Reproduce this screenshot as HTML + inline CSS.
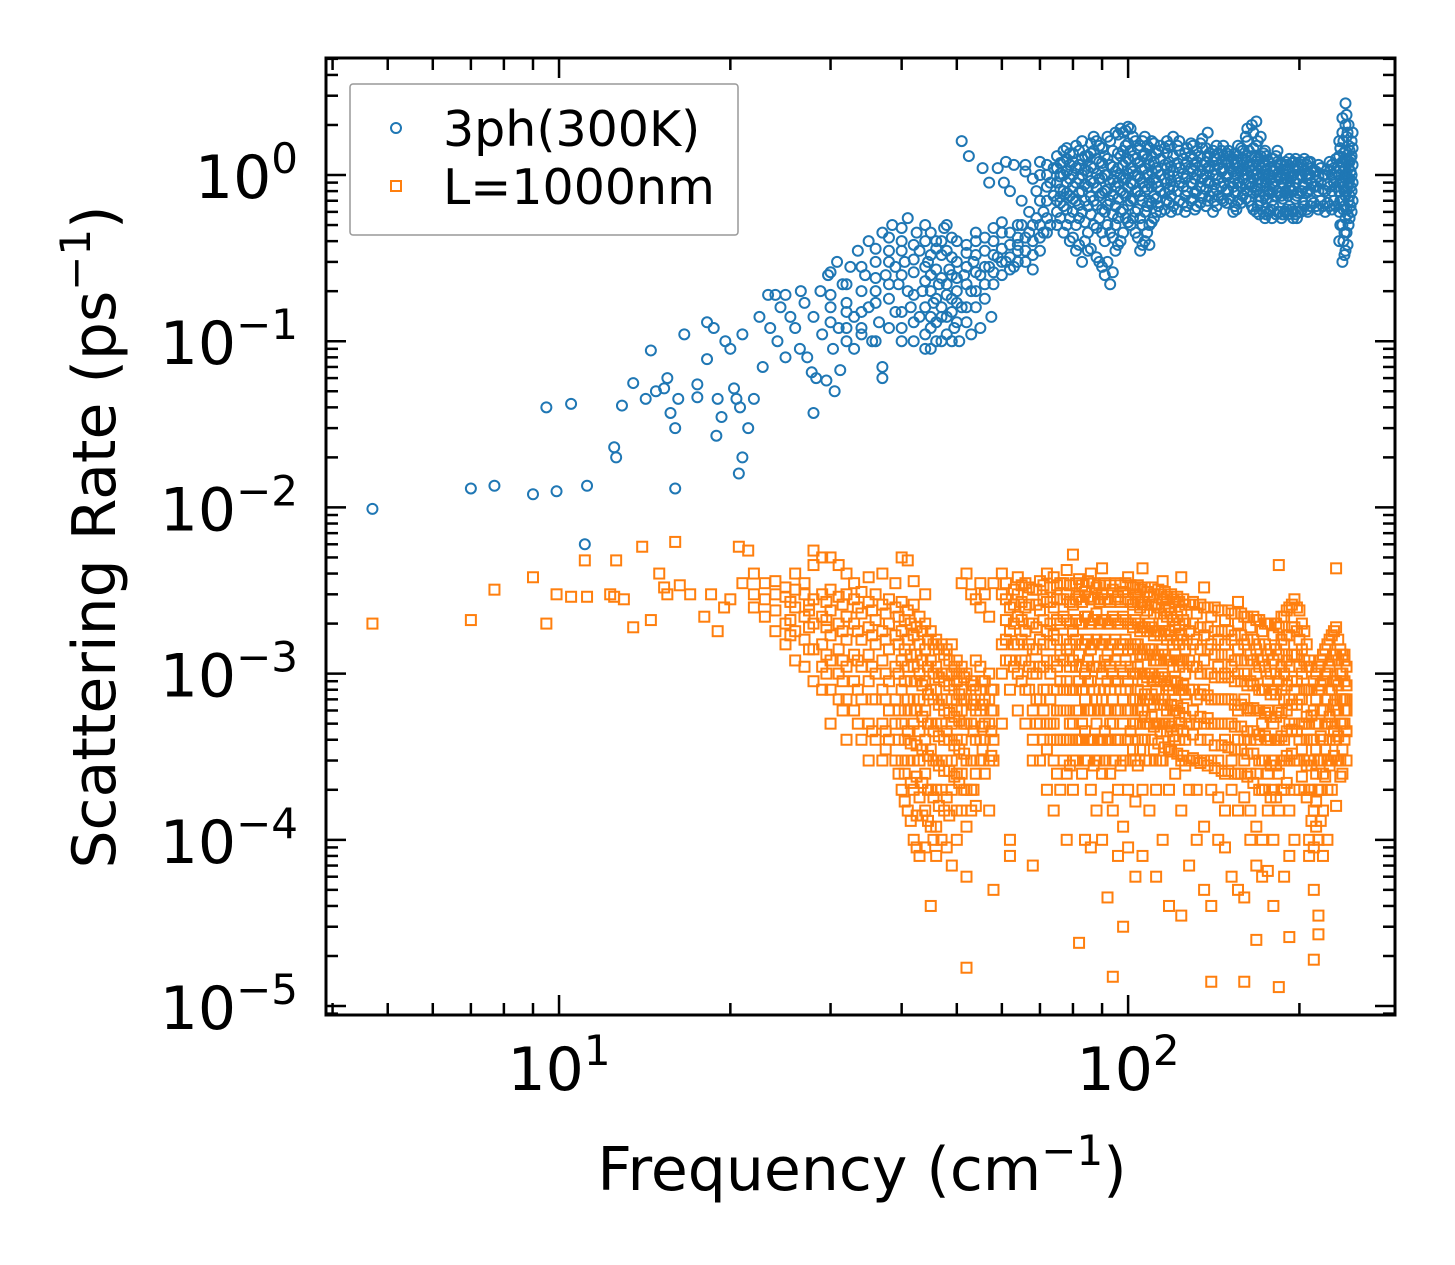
<!DOCTYPE html>
<html><head><meta charset="utf-8"><style>
html,body{margin:0;padding:0;background:#fff;}
svg{display:block;font-family:"DejaVu Sans","Liberation Sans",sans-serif;}
</style></head><body>
<svg id="chart" width="1455" height="1265" viewBox="0 0 1455 1265" xmlns="http://www.w3.org/2000/svg">
<rect width="1455" height="1265" fill="#fff"/>
<g id="marks"></g>
<g id="axes"></g>
<rect x="326" y="58" width="1069" height="957" fill="none" stroke="#000" stroke-width="3"/>
<text x="862" y="1190" font-size="60" text-anchor="middle">Frequency (cm<tspan dy="-25" font-size="42">−1</tspan><tspan dy="25">)</tspan></text>
<text transform="translate(115,537) rotate(-90)" font-size="60" text-anchor="middle">Scattering Rate (ps<tspan dy="-25" font-size="42">−1</tspan><tspan dy="25">)</tspan></text>
<g>
<rect x="350" y="84" width="388" height="151" fill="#fff" stroke="#999" stroke-width="1.5" rx="3"/>
<circle cx="396" cy="128" r="5" fill="none" stroke="#1f77b4" stroke-width="2"/>
<text x="443" y="146" font-size="49">3ph(300K)</text>
<rect x="391" y="181" width="10" height="10" fill="none" stroke="#ff7f0e" stroke-width="2"/>
<text x="443" y="204" font-size="49">L=1000nm</text>
</g>
</svg>
<script>
const blueSparse = [[4.7,0.0098],[7,0.013],[7.7,0.0135],[9,0.012],[9.5,0.04],[9.9,0.0125],[10.5,0.042],[11.2,0.0135],[11.1,0.006],[12.5,0.023],[12.6,0.02],[12.9,0.041],[13.5,0.056],[14.2,0.045],[14.5,0.088],[14.8,0.05],[15.3,0.052],[15.5,0.06],[15.7,0.037],[16,0.013],[16,0.03],[16.2,0.045],[16.6,0.11],[17.5,0.055],[17.5,0.046],[18.2,0.078],[18.2,0.13],[18.7,0.12],[18.9,0.027],[19,0.045],[19.3,0.035],[19.6,0.1],[20,0.09],[20.3,0.052],[20.5,0.045],[20.7,0.016],[20.8,0.04],[21,0.02],[21,0.11],[21.5,0.03],[22,0.045],[22.5,0.14],[22.8,0.07],[23.3,0.19],[23.5,0.12],[24,0.19],[24.2,0.1],[24.5,0.16],[25,0.19],[25,0.08],[25.5,0.14],[26,0.12],[26.5,0.09],[26.6,0.2],[27,0.17],[27.3,0.08],[27.8,0.065],[28,0.037],[28,0.14],[28.3,0.06],[28.8,0.2],[29,0.11],[29.5,0.058],[29.7,0.25],[30,0.16],[30.3,0.09],[30.5,0.05],[30.8,0.3],[31,0.12],[31.2,0.067],[31.5,0.22],[32,0.17],[32,0.1],[32.5,0.28],[33,0.14],[33,0.09],[33.5,0.35],[34,0.2],[34,0.12],[34.5,0.25],[35,0.16],[35,0.4],[35.5,0.1],[36,0.3],[36,0.2],[36.5,0.13],[37,0.45],[37,0.06],[37,0.07],[37.5,0.25],[38,0.18],[38,0.35],[38.5,0.5],[39,0.15],[39,0.28],[39.5,0.22],[40,0.4],[40,0.12],[40.5,0.3],[41,0.55],[41,0.2],[41.5,0.16],[42,0.1],[42,0.26],[42.5,0.45],[43,0.35],[43,0.14],[43.5,0.2],[44,0.09],[44,0.5],[44.5,0.3],[45,0.12],[45,0.25],[45.5,0.17],[46,0.4],[46,0.1],[46.5,0.22],[47,0.14],[47,0.33],[47.5,0.48],[48,0.11],[48,0.19],[48.5,0.27],[49,0.42],[49,0.15],[49.5,0.12],[50,0.3],[50,0.2],[50.5,0.1],[51,0.16],[51,1.6],[51.5,0.25],[52,0.13],[52,0.38],[52.5,1.3],[53,0.2],[53,0.11],[53.5,0.3],[54,0.16],[54,0.45],[55,0.12],[55,0.25],[55.5,1.1],[56,0.35],[56,0.18],[57,0.28],[57,0.9],[57.5,0.14],[58,0.22],[58,0.4],[59,0.32],[59,1.1],[60,0.25],[60,0.45],[60.5,0.9],[61,0.3],[61,1.2],[62,0.38],[62,0.8],[63,0.28],[63,1.15],[64,0.42],[64,0.35],[65,0.5],[65,0.7],[66,0.3],[66,1.15],[67,0.45],[67,0.6],[68,0.4],[68,0.27],[69,0.55],[69,0.8],[70,0.35],[70,1.2],[71,0.6],[71,0.45],[72,0.7],[72,1.0],[73,0.5],[73,0.9],[74,0.75],[74,1.1]];
const blueColumns = [[75,.5,.7,.9,1.1,1.3,.6],[77,.45,.8,1.0,1.2,.65,1.4],[79,.4,.55,.75,.95,1.15,1.35],[81,.35,.5,.7,.9,1.1,1.5],[83,.3,.6,.8,1.0,1.25,1.6],[85,.45,.65,.85,1.05,1.3,.35],[87,.5,.7,.9,1.1,1.4,1.7],[89,.3,.55,.75,.95,1.2,1.5],[91,.25,.4,.6,.8,1.0,1.3],[93,.22,.45,.7,.9,1.15,1.6],[95,.35,.5,.65,.85,1.05,1.8],[97,.4,.6,.8,1.0,1.3,1.9],[99,.55,.75,.95,1.2,1.5,1.85],[101,.5,.7,.9,1.1,1.4,1.9],[103,.6,.8,1.0,1.25,1.6,.45],[105,.35,.55,.75,.95,1.2,1.5],[107,.4,.6,.85,1.1,1.35,1.7],[109,.5,.7,.9,1.15,1.45,.38],[111,.55,.75,.95,1.2,1.55],[114,.6,.8,1.0,1.25,1.5],[117,.7,.9,1.1,1.35,1.6],[120,.65,.85,1.05,1.3,1.7],[123,.7,.9,1.1,1.4,1.6],[126,.75,.95,1.15,1.35,.6],[129,.7,.9,1.1,1.3,1.55],[132,.8,1.0,1.2,1.4,.65],[135,.75,.95,1.15,1.45,1.65],[138,.7,.9,1.1,1.3,1.8],[141,.8,1.0,1.2,1.4,.6],[144,.75,.95,1.15,1.35],[147,.7,.9,1.1,1.3,1.5],[150,.8,1.0,1.2,1.4],[153,.6,.85,1.05,1.25],[156,.7,.9,1.1,1.3,1.5],[159,.75,.95,1.15,1.4],[162,.8,1.0,1.2,1.6,1.9],[165,.65,.85,1.05,1.3,2.0],[168,.6,.8,1.0,1.2,1.5,2.1],[171,.7,.9,1.1,1.3,1.7],[174,.55,.75,.95,1.15,1.4],[177,.6,.8,1.0,1.2],[180,.65,.85,1.05,1.25],[183,.6,.8,1.0,1.2,1.4],[186,.55,.75,.95,1.15],[189,.6,.8,1.0,1.2],[192,.65,.85,1.05,1.25],[195,.6,.8,1.0,1.2,.55],[198,.55,.75,.95,1.15],[201,.6,.8,1.0,1.2],[204,.65,.85,1.05,1.25],[207,.6,.8,1.0,1.2],[210,.7,.9,1.1],[214,.65,.85,1.05],[218,.7,.9,1.1],[222,.6,.8,1.0],[226,.65,.85,1.05,1.2],[230,.7,.9,1.1],[235,.4,.6,.8,1.0,1.3,1.6],[238,.3,.5,.7,.9,1.2,1.8,2.2],[241,.35,.55,.75,.95,1.1,1.4,2.0,2.7],[244,.5,.7,.9,1.1,1.5,2.0],[247,.6,.8,1.0,1.3,1.6]];
const blueColumns2 = [[30,.13,.19,.26],[32,.12,.22,.15],[34,.15,.28,.11],[36,.1,.17,.24,.36],[38,.12,.22,.3,.42],[40,.1,.15,.25,.35,.48],[42,.13,.19,.31,.38],[44,.11,.16,.23,.4,.28],[45,.09,.14,.2,.33,.45],[46,.13,.18,.27,.36],[47,.1,.16,.24,.4],[48,.14,.22,.35,.5],[49,.1,.18,.25,.32],[50,.13,.17,.4,.24],[52,.16,.22,.28,.34],[54,.2,.26,.33,.4],[56,.22,.28,.42],[58,.26,.33,.48],[60,.3,.36,.52],[62,.27,.32,.45],[64,.3,.38,.5],[66,.35,.42,1.05],[68,.33,.5,.95],[70,.42,.5,.7,1.0],[72,.45,.55,.85,1.15],[76,.55,.68,.82,.98,1.18,1.02,.74],[78,.5,.62,.78,.9,1.05,1.25,1.45],[80,.42,.6,.72,.85,1.0,1.2,1.35],[82,.38,.55,.66,.78,.95,1.15,1.4],[84,.4,.52,.7,.88,1.08,1.3],[86,.36,.58,.74,.92,1.12,1.35,1.55],[88,.32,.48,.66,.84,1.02,1.25,1.6],[90,.28,.45,.62,.78,.96,1.18,1.45],[92,.3,.5,.66,.82,1.0,1.25,1.7],[94,.26,.42,.58,.76,.94,1.12,1.4],[96,.38,.55,.72,.9,1.1,1.35,1.75],[98,.45,.62,.78,.96,1.15,1.4,1.8],[100,.52,.66,.84,1.02,1.25,1.55,1.95],[102,.55,.72,.88,1.05,1.3,1.7],[104,.42,.62,.8,.98,1.18,1.45],[106,.38,.5,.7,.9,1.08,1.3,1.6],[108,.45,.65,.82,1.0,1.25,1.5],[110,.52,.68,.85,1.05,1.3,1.6],[112,.6,.72,.9,1.1,1.35],[113,.65,.85,1.05,1.4],[116,.62,.78,.95,1.15,1.45],[118,.68,.82,1.0,1.2,1.5],[119,.6,.75,.92,1.12],[122,.62,.8,.98,1.18,1.5],[125,.68,.85,1.02,1.25],[127,.65,.8,.98,1.2,1.45],[130,.72,.88,1.05,1.25,1.5],[131,.62,.78,.95,1.15],[134,.68,.85,1.05,1.3,1.55],[137,.65,.82,1.0,1.2,1.45],[139,.75,.92,1.12,1.35],[142,.7,.88,1.08,1.3],[143,.65,.82,1.0,1.25,1.5],[146,.72,.85,1.05,1.2,1.4],[149,.68,.82,.98,1.18,1.35],[151,.72,.9,1.1,1.3],[154,.65,.78,.95,1.15,1.35],[155,.62,.8,1.0,1.2],[158,.68,.85,1.05,1.25,1.45],[161,.72,.88,1.08,1.3,1.7],[163,.7,.9,1.12,1.4],[166,.62,.78,.95,1.15,1.45,1.8],[169,.65,.82,1.02,1.25,1.6],[170,.58,.75,.95,1.15],[173,.6,.8,1.0,1.2,1.35],[175,.58,.72,.9,1.08,1.3],[178,.62,.78,.95,1.12],[179,.55,.7,.88,1.05],[182,.58,.75,.92,1.1,1.3],[185,.6,.78,.98,1.18],[187,.58,.72,.9,1.08],[190,.62,.78,.95,1.15],[191,.58,.75,.92,1.1],[194,.62,.8,.98,1.18],[197,.58,.72,.9,1.08,1.25],[199,.6,.78,.95,1.12],[202,.62,.8,.98,1.15],[203,.68,.88,1.1],[206,.62,.78,.95,1.15],[209,.65,.82,1.0,1.2],[212,.68,.85,1.05],[216,.62,.8,.98,1.15],[220,.65,.82,1.0],[224,.68,.88,1.08],[228,.62,.8,1.0,1.15],[232,.65,.85,1.05,1.25],[236,.5,.7,.9,1.1,1.45],[239,.4,.62,.85,1.05,1.35,1.6],[240,.33,.45,.65,.8,1.0,1.25],[242,.45,.62,.8,1.0,1.25,1.7,2.3],[243,.38,.58,.85,1.2,1.8],[245,.55,.75,.95,1.2,1.4],[246,.65,.85,1.05,1.25],[248,.7,.9,1.15,1.45,1.8]];
const orangeSparse = [[4.7,0.002],[7,0.0021],[7.7,0.0032],[9,0.0038],[9.5,0.002],[9.9,0.003],[10.5,0.0029],[11.1,0.0048],[11.2,0.0029],[12.3,0.003],[12.5,0.0029],[12.6,0.0048],[13,0.0028],[13.5,0.0019],[14,0.0058],[14.5,0.0021],[15,0.004],[15.3,0.0033],[15.5,0.003],[16,0.0062],[16.3,0.0034],[17,0.003],[18,0.0022],[18.5,0.003],[19,0.0018],[19.5,0.0025],[20,0.0028],[20.7,0.0058],[21,0.0035],[21.5,0.0055]];
const orangeColumns = [[22,.003,.0025,.004],[23,.0028,.0035,.0022],[24,.003,.0024,.0018,.0036],[25,.0029,.002,.0015,.0033],[26,.0032,.0025,.0018,.0012,.004],[27,.003,.0022,.0016,.0011,.0035],[28,.0028,.002,.0014,.0009,.0045,.0055],[29,.003,.0022,.0015,.0011,.0008,.005],[30,.0032,.0024,.0017,.0012,.0008,.0005,.005],[31,.0029,.002,.0014,.001,.0007,.0045],[32,.003,.0022,.0016,.0011,.0007,.0004,.004],[33,.0028,.002,.0013,.0009,.0006,.0035],[34,.0031,.0023,.0016,.0011,.0007,.0004],[35,.0027,.0019,.0013,.0009,.0005,.0003,.0038],[36,.003,.0021,.0015,.001,.0007,.0004],[37,.0026,.0018,.0012,.0008,.0005,.0003,.004],[38,.0028,.002,.0014,.0009,.0006,.0004],[39,.0025,.0017,.0011,.0007,.0005,.0003,.0035],[40,.0027,.0018,.0012,.0008,.0005,.0003,.0002,.005],[41,.0024,.0016,.0011,.0007,.00045,.0003,.00015,.0048],[42,.0026,.0017,.0011,.0007,.0005,.0003,.0002,.0001,.0036],[43,.0022,.0015,.001,.0007,.00045,.0003,.00018,.00008],[44,.002,.0014,.0009,.0006,.0004,.00025,.00015,.00009,.003],[45,.0018,.0012,.0008,.0005,.00035,.0002,.00012,.00004],[46,.0016,.0011,.0008,.0005,.0003,.0002,.00012,.00008],[47,.0015,.001,.0007,.0005,.0003,.0002,.0001],[48,.0014,.001,.0007,.00045,.0003,.00018,.00009],[49,.0015,.001,.0007,.0005,.0003,.0002,.00007],[50,.0012,.0009,.0006,.0004,.00025,.00015,.0001],[51,.0011,.0008,.0006,.0004,.00025,.00015,.0035],[52,.001,.0007,.0005,.0003,.0002,.00012,.00006,.000017,.004],[53,.0009,.0007,.0005,.0003,.0002,.00015,.003],[54,.0012,.0008,.0006,.0004,.00025,.00016,.0028],[55,.0011,.0008,.0006,.0004,.0003,.0025,.0035],[56,.0009,.0007,.0005,.0004,.00025,.003],[57,.001,.0007,.0005,.0003,.00015,.0022],[58,.0008,.0006,.0004,.0003,.00005,.0035],[60,.0015,.001,.0005,.003,.004],[62,.0018,.0012,.0008,.0001,.00008,.0025],[64,.0022,.0015,.001,.0006,.003,.0038],[66,.0025,.0018,.0012,.0008,.0005,.0035],[68,.002,.0014,.001,.0006,.0004,.0003,.00007,.0032],[70,.0024,.0016,.0011,.0007,.0005,.0003,.0036],[72,.0027,.0018,.0012,.0008,.0005,.00035,.0002,.004],[74,.0025,.0017,.0012,.0008,.0005,.0003,.00015,.0038],[76,.0028,.002,.0013,.0009,.0006,.0004,.0002,.0035],[78,.003,.0021,.0014,.0009,.0006,.0004,.00025,.0001,.0042],[80,.0026,.0018,.0012,.0008,.0005,.0003,.0002,.0052],[82,.0029,.002,.0013,.0009,.0006,.0004,.000024,.0037],[84,.0031,.0022,.0015,.001,.0007,.00045,.0003,.0001],[86,.0028,.002,.0014,.0009,.0006,.0004,.0002,.00009,.004],[88,.0033,.0023,.0016,.0011,.0007,.0005,.0003,.00015],[90,.003,.0021,.0015,.001,.0007,.0004,.00025,.0001,.0043],[92,.0028,.002,.0013,.0009,.0006,.0004,.00018,.000045],[94,.0032,.0022,.0015,.001,.0007,.0005,.0003,.00015,.000015],[96,.0029,.002,.0014,.0009,.0006,.0004,.0002,.00008],[98,.0031,.0022,.0015,.001,.0007,.0005,.0003,.00012,.00003],[100,.0028,.002,.0014,.0009,.0006,.0004,.0002,.00009,.0038],[103,.003,.0021,.0015,.001,.0007,.0005,.0003,.00017,.00006],[106,.0027,.0019,.0013,.0009,.0006,.0004,.0002,.00008,.0043],[109,.0029,.002,.0014,.001,.0007,.0005,.0003,.00015],[112,.0026,.0018,.0012,.0008,.0005,.0003,.0002,.00006],[115,.0028,.002,.0014,.001,.0007,.0005,.0003,.0001,.0036],[118,.0025,.0018,.0012,.0008,.0005,.00035,.0002,.00004],[121,.0027,.0019,.0013,.0009,.0006,.0004,.00025],[124,.0024,.0017,.0012,.0008,.0005,.0003,.00015,.000035,.0038],[128,.0026,.0018,.0012,.0008,.0005,.0003,.0002,.00007],[132,.0023,.0016,.0011,.0007,.0005,.0003,.0002,.0001],[136,.0025,.0017,.0012,.0008,.0005,.0003,.00012,.00005,.0033],[140,.0022,.0015,.001,.0007,.0005,.0003,.0002,.00004,.000014],[144,.0024,.0016,.0011,.0007,.0005,.0003,.00018,.0001],[148,.0021,.0015,.001,.0007,.0004,.00025,.00015,.00009],[152,.0023,.0016,.0011,.0007,.0005,.0003,.0002,.00006],[156,.002,.0014,.001,.0006,.0004,.00025,.00015,.00005,.0027],[160,.0022,.0015,.001,.0007,.0004,.0003,.00018,.000045,.000014],[164,.0019,.0013,.0009,.0006,.0004,.00025,.00015,.0001],[168,.0021,.0014,.001,.0006,.0004,.00025,.00012,.00007,.000025],[172,.0018,.0012,.0008,.0005,.0003,.0002,.0001,.00006],[176,.002,.0013,.0009,.0006,.0004,.00025,.00015,.000065],[180,.0017,.0012,.0008,.0005,.0003,.0002,.0001,.00004],[184,.0019,.0013,.0009,.0006,.0004,.00025,.00015,.000013,.0045],[188,.0022,.0015,.001,.0007,.0004,.0003,.0002,.00006],[192,.0025,.0017,.0011,.0007,.0005,.0003,.00015,.00008,.000026],[196,.0028,.0019,.0013,.0008,.0005,.0003,.0002,.0001],[200,.0024,.0016,.0011,.0007,.0004,.0003,.0002],[204,.0018,.0012,.0008,.0005,.0003,.0002],[208,.0012,.0008,.0005,.0003,.0002,.0001,.00008],[212,.0009,.0006,.0004,.0003,.00015,.00009,.00005,.000019],[216,.0011,.0008,.0005,.0003,.0002,.0001,.000035,.000027],[220,.0013,.0009,.0006,.0004,.00025,.00015,.00008],[224,.0015,.001,.0007,.0005,.0003,.0002,.0001],[228,.0017,.0012,.0008,.0005,.0003,.0002],[232,.0019,.0013,.0009,.0006,.0004,.0003,.00016,.0043],[236,.0014,.001,.0007,.0005,.0003,.00024],[240,.0012,.0009,.0006,.0005,.0004,.0007,.0013]];
const orangeColumns2 = [[25.5,.0027,.0021,.0017],[27.5,.0026,.0019,.0014,.0024],[29.5,.0027,.0019,.0013,.001,.0021],[31.5,.0026,.0018,.0012,.0009,.0006],[33.5,.0025,.0018,.0012,.0008,.0005],[35.5,.0024,.0017,.0011,.0007,.00045],[37.5,.0023,.0016,.001,.0007,.00045,.00035],[39.5,.0022,.0015,.001,.0006,.0004,.00025],[40.5,.0021,.0014,.0009,.0006,.0004,.00025,.00017],[41.5,.002,.0013,.0009,.0006,.00038,.00022,.00013],[42.5,.0019,.0013,.0009,.0006,.00037,.00024,.00014,.00009],[43.5,.0018,.0012,.00085,.00055,.00035,.00022,.00014],[44.5,.0016,.0011,.00075,.0005,.00032,.0002,.00013],[45.5,.0015,.001,.0007,.00045,.0003,.00018,.0001],[46.5,.0014,.00095,.00065,.00042,.00028,.00016],[47.5,.0013,.0009,.0006,.0004,.00026,.00015],[48.5,.0012,.00085,.00058,.0004,.00026,.00014],[49.5,.0011,.0008,.00055,.00037,.00024],[50.5,.001,.00075,.00052,.00035,.00022],[51.5,.00095,.0007,.0005,.00033,.0002],[53.5,.00085,.00065,.00045,.0003,.0002],[55.5,.0009,.00065,.00048,.00035],[57.5,.0008,.0006,.00045,.00032],[61,.0035,.0028,.0021,.0016,.0012],[63,.0032,.0026,.002,.0015,.0011],[65,.0034,.0027,.0021,.0016,.0012,.0009],[67,.0033,.0026,.002,.0015,.0011,.0008],[69,.0032,.0026,.0019,.0014,.001,.0007,.0005],[71,.0034,.0028,.0021,.0015,.0011,.0008,.0006,.0004],[73,.0033,.0027,.002,.0015,.001,.0007,.0005,.0004],[75,.0034,.0028,.0021,.0016,.0011,.0008,.0006,.0004,.00025],[77,.0035,.0028,.0022,.0016,.0012,.0008,.0006,.0004,.0003],[79,.0034,.0027,.002,.0015,.0011,.0008,.0005,.0004,.00028],[81,.0035,.0028,.0021,.0016,.0011,.0008,.0006,.0004,.0003],[83,.0034,.0027,.002,.0015,.0011,.0008,.0005,.0004,.00025],[85,.0036,.0029,.0022,.0016,.0012,.0009,.0006,.0004,.0003],[87,.0035,.0028,.0021,.0015,.0011,.0008,.0006,.0004,.00028],[89,.0034,.0027,.002,.0015,.0011,.0008,.0006,.0004,.0003],[91,.0035,.0028,.0021,.0016,.0012,.0008,.0006,.00045,.0003],[93,.0034,.0027,.002,.0015,.0011,.0008,.0005,.0004,.00025],[95,.0035,.0028,.0021,.0016,.0012,.0009,.0006,.0004,.0003],[97,.0034,.0027,.002,.0015,.0011,.0008,.0006,.0004,.00028],[99,.0035,.0028,.0021,.0016,.0012,.0008,.0006,.0004,.0003],[101,.0034,.0027,.002,.0015,.0011,.0008,.0006,.00045,.0003],[102,.0033,.0026,.0019,.0014,.001,.0007,.0005,.00035],[104,.0034,.0027,.002,.0015,.0011,.0008,.0006,.0004,.00028],[105,.0032,.0025,.0018,.0013,.001,.0007,.0005,.00035],[107,.0033,.0026,.0019,.0014,.001,.00075,.00055,.0004,.0003],[108,.0031,.0024,.0018,.0013,.00095,.0007,.0005],[110,.0033,.0026,.0019,.0014,.001,.00075,.00055,.0004],[111,.003,.0023,.0017,.0012,.0009,.00065,.00048,.00035],[113,.0032,.0025,.0018,.0013,.00095,.0007,.0005,.00038],[114,.003,.0023,.0017,.0012,.0009,.00065,.00045,.0003],[116,.0031,.0024,.0018,.0013,.00095,.0007,.0005,.00036],[117,.0029,.0022,.0016,.0012,.00085,.0006,.00045],[119,.003,.0023,.0017,.0012,.0009,.00065,.00048,.00034],[120,.0028,.0021,.0015,.0011,.0008,.0006,.00042],[122,.0029,.0022,.0016,.0012,.00088,.00064,.00046,.00033],[123,.0027,.002,.0015,.0011,.0008,.00058,.0004],[125,.0028,.0021,.0016,.0012,.00085,.00062,.00045,.00032],[126,.0026,.002,.0014,.001,.00075,.00055,.0004,.00028],[130,.0027,.002,.0015,.0011,.0008,.0006,.00043,.00031],[134,.0026,.0019,.0014,.001,.00075,.00055,.0004,.00029],[138,.0025,.0019,.0014,.001,.00074,.00054,.0004,.00028],[142,.0025,.0018,.0013,.00095,.0007,.0005,.00037,.00027],[146,.0024,.0018,.0013,.00095,.0007,.0005,.00037,.00026],[150,.0024,.0018,.0013,.00095,.0007,.0005,.00036,.00026],[154,.0023,.0017,.0012,.0009,.00065,.00048,.00035,.00025],[158,.0023,.0017,.0012,.0009,.00065,.00048,.00035,.00025],[162,.0022,.0016,.0012,.00085,.00062,.00045,.00033,.00024],[166,.0022,.0016,.0012,.00085,.00062,.00045,.00033,.00022],[170,.0021,.0015,.0011,.0008,.0006,.00043,.0003,.0002],[174,.002,.0015,.0011,.0008,.00058,.00042,.0003,.0002],[178,.002,.0014,.001,.00075,.00055,.0004,.00028,.00018],[182,.002,.0014,.001,.00075,.00055,.0004,.00028,.00018],[186,.0022,.0016,.0011,.0008,.00058,.00042,.0003,.0002],[190,.0024,.0017,.0012,.00085,.0006,.00045,.00032,.00022],[194,.0026,.0019,.0013,.0009,.00065,.00046,.00033],[198,.0025,.0018,.0013,.0009,.00065,.00045,.0003],[202,.002,.0014,.001,.0007,.0005,.00035,.00024],[206,.0015,.0011,.0008,.00055,.0004,.00028,.00018],[210,.0011,.0008,.00056,.0004,.00028,.0002,.00013],[214,.001,.0007,.0005,.00035,.00025,.00017,.00012],[218,.0012,.00085,.0006,.00042,.0003,.0002,.00013],[222,.0014,.001,.0007,.0005,.00035,.00024],[226,.0016,.0011,.0008,.00055,.0004,.00028],[230,.0018,.0013,.0009,.00065,.00045,.00032],[234,.0016,.0012,.00085,.0006,.00042,.0003],[238,.0013,.001,.0007,.0005,.00035,.00025],[242,.0011,.00085,.0006,.00045,.0003,.0007]];
const xTickExps = [1, 2];
const yTickExps = [0, -1, -2, -3, -4, -5];

const NS = "http://www.w3.org/2000/svg";
const X0 = 326, X1 = 1395, Y0 = 58, Y1 = 1015;
const xLogMin = 0.5905, xLogMax = 2.469, yLogMin = -5.054, yLogMax = 0.704;
function xs(f){ return X0 + (Math.log10(f) - xLogMin) / (xLogMax - xLogMin) * (X1 - X0); }
function ys(r){ return Y1 - (Math.log10(r) - yLogMin) / (yLogMax - yLogMin) * (Y1 - Y0); }
const marks = document.getElementById('marks');
const axes = document.getElementById('axes');

function expand(sparse, colsList){
  const pts = sparse.slice();
  colsList.forEach(cols => cols.forEach(c => { for (let i = 1; i < c.length; i++) pts.push([c[0], c[i]]); }));
  return pts;
}
const bluePts = expand(blueSparse, [blueColumns, blueColumns2]);
const orangePts = expand(orangeSparse, [orangeColumns, orangeColumns2]);

const gB = document.createElementNS(NS, 'g');


marks.appendChild(gB);
bluePts.forEach(p => {
  const c = document.createElementNS(NS, 'circle');
  
  
  c.setAttribute('cx', xs(p[0])); c.setAttribute('cy', ys(p[1])); c.setAttribute('r', 5);
  c.setAttribute('fill', 'none'); c.setAttribute('stroke', '#1f77b4'); c.setAttribute('stroke-width', 2);
  gB.appendChild(c);
});
const gO = document.createElementNS(NS, 'g');


marks.appendChild(gO);
orangePts.forEach(p => {
  const r = document.createElementNS(NS, 'rect');
  
  
  r.setAttribute('x', xs(p[0]) - 5); r.setAttribute('y', ys(p[1]) - 5);
  r.setAttribute('width', 10); r.setAttribute('height', 10);
  r.setAttribute('fill', 'none'); r.setAttribute('stroke', '#ff7f0e'); r.setAttribute('stroke-width', 2);
  gO.appendChild(r);
});

function line(x1,y1,x2,y2,name){
  const l = document.createElementNS(NS, 'line');
  
  
  l.setAttribute('x1', x1); l.setAttribute('y1', y1); l.setAttribute('x2', x2); l.setAttribute('y2', y2);
  l.setAttribute('stroke', '#000'); l.setAttribute('stroke-width', 2.5);
  axes.appendChild(l);
}
for (let d = 0; d <= 2; d++) {
  for (let m = 1; m <= 9; m++) {
    const x = xs(m * Math.pow(10, d));
    if (x < X0 || x > X1) continue;
    const len = m === 1 ? 20 : 12;
    line(x, Y1, x, Y1 - len, 'x-tick');
    line(x, Y0, x, Y0 + len, 'x-tick-top');
  }
}
xTickExps.forEach(e => {
  const t = document.createElementNS(NS, 'text');
  
  
  t.setAttribute('x', xs(Math.pow(10, e))); t.setAttribute('y', 1090);
  t.setAttribute('font-size', 60); t.setAttribute('text-anchor', 'middle');
  t.innerHTML = '10<tspan dy="-25" font-size="42">' + e + '</tspan>';
  axes.appendChild(t);
});
for (let d = -6; d <= 0; d++) {
  for (let m = 1; m <= 9; m++) {
    const y = ys(m * Math.pow(10, d));
    if (y < Y0 || y > Y1) continue;
    const len = m === 1 ? 20 : 12;
    line(X0, y, X0 + len, y, 'y-tick');
    line(X1, y, X1 - len, y, 'y-tick-right');
  }
}
yTickExps.forEach(e => {
  const t = document.createElementNS(NS, 'text');
  
  
  t.setAttribute('x', 298); t.setAttribute('y', ys(Math.pow(10, e)) + 23);
  t.setAttribute('font-size', 60); t.setAttribute('text-anchor', 'end');
  const lab = e < 0 ? '−' + (-e) : String(e);
  t.innerHTML = '10<tspan dy="-25" font-size="42">' + lab + '</tspan>';
  axes.appendChild(t);
});
</script>
</body></html>
